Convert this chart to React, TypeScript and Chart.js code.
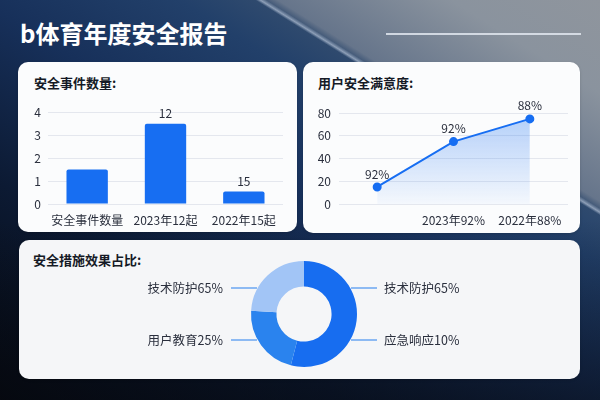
import React, { useEffect, useRef } from "react";
import { Chart, registerables } from "chart.js";

Chart.register(...registerables);

const FONT = '"Noto Sans CJK SC", "Noto Sans", sans-serif';

// ---- data ----
const TITLE = "b体育年度安全报告";

const BAR_TITLE = "安全事件数量:";
const BAR_CATEGORIES = ["安全事件数量", "2023年12起", "2022年15起"];
const BAR_VALUES = [1.5, 3.5, 0.55];
const BAR_VALUE_LABELS = ["", "12", "15"];
const BAR_Y_MAX = 4;
const BAR_Y_STEP = 1;

const LINE_TITLE = "用户安全满意度:";
const LINE_CATEGORIES = ["", "2023年92%", "2022年88%"];
const LINE_VALUES = [15, 55, 75];
const LINE_VALUE_LABELS = ["92%", "92%", "88%"];
const LINE_Y_MAX = 80;
const LINE_Y_STEP = 20;

const PIE_TITLE = "安全措施效果占比:";
const PIE_NAMES = ["技术防护", "用户教育", "应急响应"];
const PIE_VALUES = [54, 22, 24];
const PIE_LEFT_CALLOUTS = ["技术防护65%", "用户教育25%"];
const PIE_RIGHT_CALLOUTS = ["技术防护65%", "应急响应10%"];

// ---- styles ----
const BLUE = "#176ef2";
const PIE_COLORS = ["#176df0", "#2a83ee", "#a2c5f6"];
const TEXT = "#2a2f3d";
const GRID = "#e4e7ee";

function valueLabelPlugin(labels: string[], offset: number) {
  return {
    id: "valueLabels",
    afterDatasetsDraw(chart: any) {
      const ctx = chart.ctx;
      const meta = chart.getDatasetMeta(0);
      ctx.save();
      ctx.font = `12px ${FONT}`;
      ctx.fillStyle = TEXT;
      ctx.textAlign = "center";
      ctx.textBaseline = "middle";
      meta.data.forEach((el: any, i: number) => {
        const t = labels[i];
        if (!t) return;
        ctx.fillText(t, el.x, el.y - offset);
      });
      ctx.restore();
    },
  };
}

const calloutPlugin = {
  id: "callouts",
  afterDraw(chart: any) {
    const ctx = chart.ctx;
    const arc: any = chart.getDatasetMeta(0).data[0];
    if (!arc) return;
    const cx = arc.x;
    const cy = arc.y;
    const r = arc.outerRadius;
    const ys = [cy - 26, cy + 26];
    ctx.save();
    ctx.strokeStyle = "#6aa6f2";
    ctx.lineWidth = 1.5;
    ctx.font = `12.5px ${FONT}`;
    ctx.fillStyle = TEXT;
    ctx.textBaseline = "middle";
    ys.forEach((y, i) => {
      ctx.beginPath();
      ctx.moveTo(cx - r - 20, y);
      ctx.lineTo(cx - r + 6, y);
      ctx.stroke();
      ctx.textAlign = "right";
      ctx.fillText(PIE_LEFT_CALLOUTS[i], cx - r - 28, y);
      ctx.beginPath();
      ctx.moveTo(cx + r - 6, y);
      ctx.lineTo(cx + r + 20, y);
      ctx.stroke();
      ctx.textAlign = "left";
      ctx.fillText(PIE_RIGHT_CALLOUTS[i], cx + r + 27, y);
    });
    ctx.restore();
  },
};

function BarChart() {
  const ref = useRef<HTMLCanvasElement>(null);
  useEffect(() => {
    const chart = new Chart(ref.current!, {
      type: "bar",
      data: {
        labels: BAR_CATEGORIES,
        datasets: [
          {
            data: BAR_VALUES,
            backgroundColor: BLUE,
            borderRadius: 2,
            borderSkipped: "bottom",
            categoryPercentage: 0.8,
            barPercentage: 0.66,
          },
        ],
      },
      options: {
        responsive: false,
        animation: false,
        layout: { padding: { top: 13, right: 9, left: 0, bottom: 0 } },
        plugins: { legend: { display: false }, tooltip: { enabled: false } },
        scales: {
          x: {
            grid: { display: false },
            border: { display: false },
            ticks: { color: TEXT, font: { size: 12, family: FONT }, padding: 1, maxRotation: 0 },
            afterFit: (s: any) => { s.height = 24; },
          },
          y: {
            min: 0,
            max: BAR_Y_MAX,
            ticks: { stepSize: BAR_Y_STEP, color: TEXT, font: { size: 12, family: FONT }, padding: 7 },
            grid: { color: GRID, drawTicks: false },
            border: { display: false },
            afterFit: (s: any) => { s.width = 26; },
          },
        },
      },
      plugins: [valueLabelPlugin(BAR_VALUE_LABELS, 10)],
    });
    return () => chart.destroy();
  }, []);
  return <canvas ref={ref} width={270} height={130} style={{ position: "absolute", left: 22, top: 98, width: 270, height: 130 }} />;
}

function LineChart() {
  const ref = useRef<HTMLCanvasElement>(null);
  useEffect(() => {
    const chart = new Chart(ref.current!, {
      type: "line",
      data: {
        labels: LINE_CATEGORIES,
        datasets: [
          {
            data: LINE_VALUES,
            borderColor: BLUE,
            borderWidth: 2,
            pointBackgroundColor: BLUE,
            pointBorderColor: BLUE,
            pointRadius: 3.5,
            tension: 0,
            fill: "origin",
            backgroundColor: (c: any) => {
              const area = c.chart.chartArea;
              if (!area) return "rgba(23,110,242,0.2)";
              const g = c.chart.ctx.createLinearGradient(0, area.top, 0, area.bottom);
              g.addColorStop(0, "rgba(23,110,242,0.32)");
              g.addColorStop(1, "rgba(23,110,242,0.03)");
              return g;
            },
          },
        ],
      },
      options: {
        responsive: false,
        animation: false,
        layout: { padding: { top: 14, right: 8, left: 0, bottom: 0 } },
        plugins: { legend: { display: false }, tooltip: { enabled: false } },
        scales: {
          x: {
            offset: true,
            grid: { display: false },
            border: { display: false },
            ticks: { color: TEXT, font: { size: 12, family: FONT }, padding: 1, maxRotation: 0 },
            afterFit: (s: any) => { s.height = 24; },
          },
          y: {
            min: 0,
            max: LINE_Y_MAX,
            ticks: { stepSize: LINE_Y_STEP, color: TEXT, font: { size: 12, family: FONT }, padding: 8 },
            grid: { color: GRID, drawTicks: false },
            border: { display: false },
            afterFit: (s: any) => { s.width = 33; },
          },
        },
      },
      plugins: [valueLabelPlugin(LINE_VALUE_LABELS, 13)],
    });
    return () => chart.destroy();
  }, []);
  return <canvas ref={ref} width={270} height={130} style={{ position: "absolute", left: 306, top: 98, width: 270, height: 130 }} />;
}

function DoughnutChart() {
  const ref = useRef<HTMLCanvasElement>(null);
  useEffect(() => {
    const chart = new Chart(ref.current!, {
      type: "doughnut",
      data: {
        labels: PIE_NAMES,
        datasets: [
          {
            data: PIE_VALUES,
            backgroundColor: PIE_COLORS,
            borderWidth: 0,
          },
        ],
      },
      options: {
        responsive: false,
        animation: false,
        cutout: "52%",
        layout: { padding: { top: 3, bottom: 5 } },
        plugins: { legend: { display: false }, tooltip: { enabled: false } },
      },
      plugins: [calloutPlugin],
    });
    return () => chart.destroy();
  }, []);
  return <canvas ref={ref} width={330} height={114} style={{ position: "absolute", left: 139, top: 258, width: 330, height: 114 }} />;
}

const cardStyle = (left: number, top: number, w: number, h: number, bg: string): React.CSSProperties => ({
  position: "absolute",
  left,
  top,
  width: w,
  height: h,
  borderRadius: 10,
  background: bg,
  boxShadow: "0 1px 3px rgba(0,0,0,0.15)",
});

const cardTitle = (left: number, top: number): React.CSSProperties => ({
  position: "absolute",
  left,
  top,
  font: `bold 13px ${FONT}`,
  lineHeight: "18px",
  color: "#151a26",
  whiteSpace: "nowrap",
});

export default function App() {
  return (
    <div
      style={{
        position: "fixed",
        left: 0,
        top: 0,
        width: 600,
        height: 400,
        overflow: "hidden",
        fontFamily: FONT,
        background:
          "linear-gradient(32deg, rgba(0,0,0,0) 72.2%, rgba(200,212,230,0.6) 72.6%, rgba(0,0,0,0) 73.1%)," +
          "linear-gradient(to bottom, rgba(0,0,0,0) 55%, rgba(6,9,16,0.55) 100%)," +
          "linear-gradient(32deg, #05080f 0%, #0c1a33 28%, #17305a 50%, #22406a 66%, #2f4a6e 72.4%, #66758b 74%, #8a939e 88%, #8f959d 100%)",
      }}
    >
      <div style={{ position: "absolute", left: 20, top: 17, font: `bold 24px ${FONT}`, lineHeight: "32px", color: "#ffffff", whiteSpace: "nowrap" }}>
        {TITLE}
      </div>
      <div style={{ position: "absolute", left: 386, top: 33, width: 195, height: 1.5, background: "rgba(225,230,238,0.85)" }} />

      <div style={cardStyle(18, 62, 279, 170, "#fbfcfd")} />
      <div style={cardStyle(303, 62, 277, 171, "#fbfcfd")} />
      <div style={cardStyle(19, 240, 561, 139, "#f5f6f8")} />

      <div style={cardTitle(34, 74)}>{BAR_TITLE}</div>
      <div style={cardTitle(318, 74)}>{LINE_TITLE}</div>
      <div style={cardTitle(33, 251)}>{PIE_TITLE}</div>

      <BarChart />
      <LineChart />
      <DoughnutChart />
    </div>
  );
}
